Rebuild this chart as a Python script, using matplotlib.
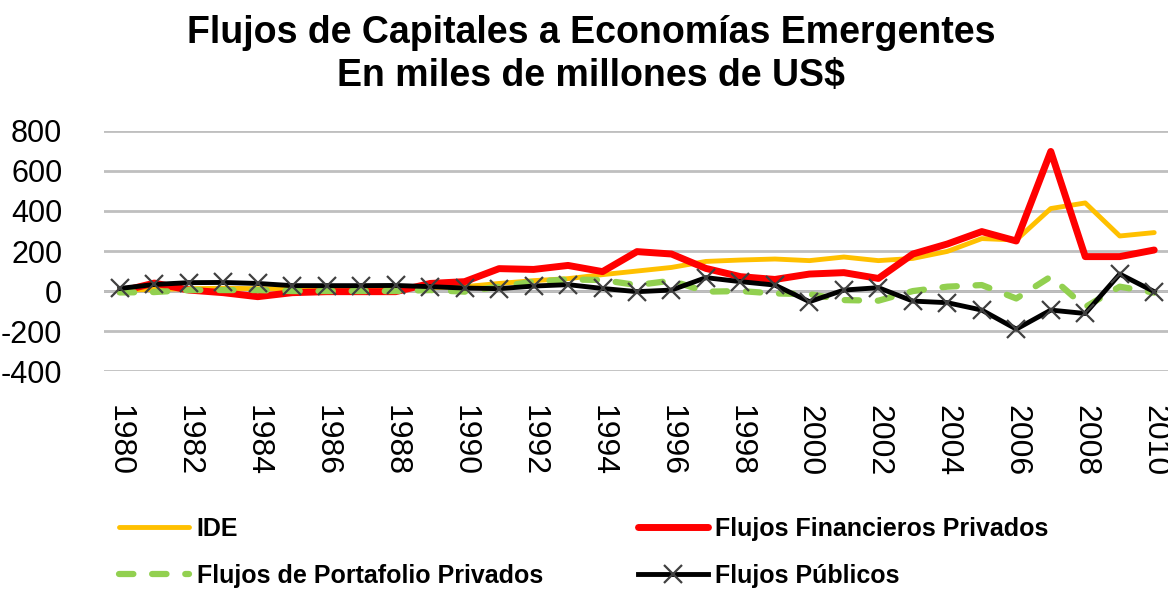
import matplotlib
matplotlib.use("Agg")
import matplotlib.pyplot as plt
from matplotlib.ticker import MultipleLocator

plt.rcParams["font.family"] = ["Liberation Sans", "DejaVu Sans"]
plt.rcParams["axes.unicode_minus"] = False

# ================= DATOS =================
anios = list(range(1980, 2011))
ide = [5, 8, 12, 14, 12, 10, 10, 12, 15, 18, 22, 38, 52, 62, 82, 100,
       118, 148, 155, 160, 152, 170, 152, 163, 198, 262, 255, 412, 440, 275, 292]
financieros = [-3, 40, 5, -8, -28, -8, -3, -3, -3, 38, 47, 112, 108, 128, 97, 197,
               185, 113, 72, 58, 85, 92, 63, 185, 235, 297, 250, 697, 172, 172, 205]
portafolio = [-7, -5, 5, 5, 5, 0, 0, 0, 0, 5, -3, 22, 47, 58, 55, 30,
              52, -3, 0, -12, -15, -45, -48, 0, 22, 30, -37, 72, -80, 22, -8]
publicos = [13, 33, 42, 43, 38, 27, 27, 27, 28, 22, 15, 12, 25, 32, 13, -3,
            5, 67, 47, 30, -53, 5, 17, -50, -58, -95, -190, -95, -112, 85, -3]

titulo1 = "Flujos de Capitales a Economías Emergentes"
titulo2 = "En miles de millones de US$"

# ================= GRAFICA =================
fig = plt.figure(figsize=(11.68, 5.92), dpi=100)
ax = fig.add_axes([0.089, 0.373, 0.911, 0.406])

l1, = ax.plot(anios, ide, color="#FFC000", lw=3.5, label="IDE", solid_capstyle="round")
l2, = ax.plot(anios, financieros, color="#FF0000", lw=5, label="Flujos Financieros Privados",
              solid_capstyle="round")
l3, = ax.plot(anios, portafolio, color="#92D050", lw=4.5, dashes=(2.3, 3.0), dash_capstyle="round",
              label="Flujos de Portafolio Privados")
l4, = ax.plot(anios, publicos, color="black", lw=3.5, marker="x", markersize=13,
              markeredgecolor="#404040", markeredgewidth=1.6, label="Flujos Públicos")

ax.set_ylim(-400, 800)
ax.set_xlim(1979.54, 2010.4)
ax.yaxis.set_major_locator(MultipleLocator(200))
ax.set_xticks(anios[::2])
ax.set_xticklabels([str(a) for a in anios[::2]], rotation=-90, fontsize=23)
ax.tick_params(axis="y", labelsize=22, length=0, pad=30)
ax.tick_params(axis="x", length=0, pad=24)
ax.grid(axis="y", color="#BFBFBF", lw=2)
ax.set_axisbelow(True)
ax.axhline(0, color="#868686", lw=2, zorder=0.5)
for s in ax.spines.values():
    s.set_visible(False)

fig.text(0.506, 0.945, titulo1, ha="center", va="center", fontsize=27, fontweight="bold")
fig.text(0.506, 0.872, titulo2, ha="center", va="center", fontsize=27, fontweight="bold")

fig.legend([l1, l3, l2, l4], [l1.get_label(), l3.get_label(), l2.get_label(), l4.get_label()],
           ncol=2, loc="center", bbox_to_anchor=(0.5, 0.067), frameon=False,
           prop={"size": 18, "weight": "bold"}, handlelength=2.8, handletextpad=0.3,
           columnspacing=3.8, labelspacing=0.9)

fig.savefig("out.png", dpi=100)
